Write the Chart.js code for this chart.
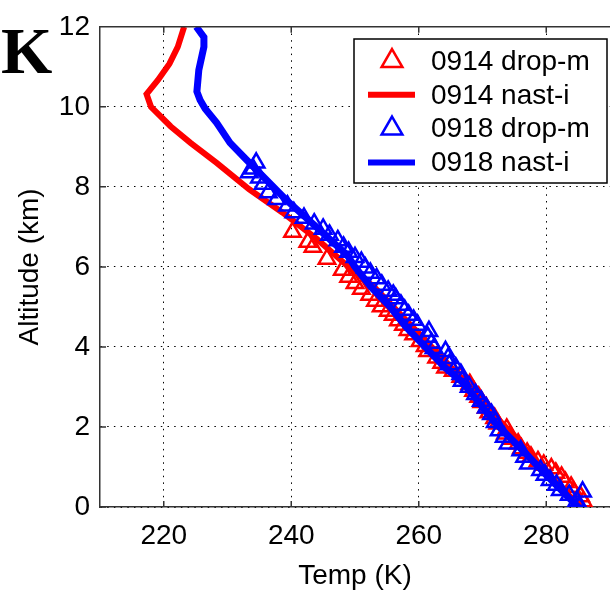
<!DOCTYPE html>
<html>
<head>
<meta charset="utf-8">
<script src="https://cdn.jsdelivr.net/npm/chart.js@4.4.0/dist/chart.umd.min.js"></script>
<style>
  html, body { margin: 0; padding: 0; background: #fff; overflow: hidden; }
  #wrap { position: relative; width: 610px; height: 593px; overflow: hidden; }
  #profileChart { position: absolute; left: 0; top: 0; }
  #panelLabel {
    position: absolute; left: 1px; top: 18px;
    font: bold 66px "Liberation Serif", "DejaVu Serif", serif;
    line-height: 66px; color: #000;
  }
</style>
</head>
<body>
<div id="wrap">
  <canvas id="profileChart" width="622" height="593" style="width:622px;height:593px"></canvas>
  <div id="panelLabel">K</div>
</div>
<script>
// ---- data (temperature in K, altitude in km) ----
const seriesLabels = ['0914 drop-m', '0914 nast-i', '0918 drop-m', '0918 nast-i'];
const xTicks = [220, 240, 260, 280];
const yTicks = [0, 2, 4, 6, 8, 10, 12];

// 0914 dropsonde (red triangles)
const drop0914Alt = [6.87, 6.62, 6.50, 6.20, 5.92, 5.75, 5.59, 5.45, 5.30, 5.15,
  5.01, 4.90, 4.80, 4.66, 4.55, 4.42, 4.31, 4.14, 4.02, 3.89,
  3.73, 3.60, 3.48, 3.40, 3.25, 3.07, 2.90, 2.75, 2.62, 2.48,
  2.36, 2.22, 2.08, 1.95, 1.83, 1.70, 1.58, 1.46, 1.35, 1.25,
  1.14, 1.05, 0.96, 0.85, 0.75, 0.62, 0.50, 0.38, 0.26, 0.14];
const drop0914Temp = [240.2, 242.6, 243.4, 245.6, 248.0, 249.0, 250.0, 251.0, 252.3, 253.2,
  254.1, 255.2, 256.0, 256.8, 257.6, 258.3, 259.2, 260.2, 261.0, 261.4,
  262.8, 263.6, 264.2, 265.4, 266.6, 268.0, 268.6, 269.4, 269.9, 270.6,
  271.0, 271.9, 272.4, 273.8, 273.6, 274.6, 275.6, 276.1, 277.0, 277.6,
  278.7, 279.6, 280.8, 281.5, 282.4, 283.0, 283.9, 284.3, 285.4, 285.8];

// 0914 NAST-I retrieval (red line)
const nast0914Alt = [0, 0.3, 0.7, 1.2, 1.7, 2.1, 2.6, 3.1, 3.5, 4.0, 4.5, 5.0, 5.5, 6.0,
  6.7, 7.36, 7.94, 8.6, 9.1, 9.51, 10.0, 10.32, 10.67, 11.08, 11.5, 12.0];
const nast0914Temp = [285.5, 283.5, 281.0, 278.0, 275.5, 273.0, 270.0, 267.5, 265.0, 262.0, 259.0, 256.0, 253.0, 249.0,
  244.0, 238.6, 233.4, 228.3, 224.2, 221.1, 218.0, 217.3, 219.1, 220.9, 222.2, 223.2];

// 0918 dropsonde (blue triangles)
const drop0918Alt = [8.60, 8.45, 8.36, 8.23, 8.07, 7.86, 7.69, 7.53, 7.36, 7.22,
  7.08, 6.95, 6.80, 6.66, 6.50, 6.37, 6.24, 6.12, 5.98, 5.85,
  5.71, 5.55, 5.40, 5.30, 5.21, 5.05, 4.92, 4.80, 4.67, 4.55,
  4.39, 4.25, 4.10, 3.97, 3.89, 3.72, 3.56, 3.48, 3.32, 3.15,
  3.00, 2.82, 2.65, 2.48, 2.32, 2.12, 1.91, 1.75, 1.58, 1.41,
  1.25, 1.08, 0.92, 0.80, 0.67, 0.55, 0.42, 0.30, 0.38, 0.15, 0.00];
const drop0918Temp = [234.5, 234.0, 233.4, 235.0, 235.6, 236.4, 237.7, 239.4, 240.4, 242.0,
  243.6, 245.0, 246.0, 247.3, 248.2, 249.0, 250.0, 251.0, 251.6, 252.4,
  253.4, 254.2, 255.2, 256.0, 256.4, 257.2, 257.8, 258.4, 259.2, 259.8,
  261.6, 261.4, 262.0, 262.4, 264.2, 264.6, 264.8, 265.8, 266.6, 266.8,
  267.9, 268.9, 269.8, 270.6, 271.4, 272.0, 272.6, 273.4, 274.0, 276.0,
  276.6, 277.2, 279.1, 279.8, 280.6, 281.6, 282.2, 283.6, 285.7, 284.8, 285.2];

// 0918 NAST-I retrieval (blue line)
const nast0918Alt = [0, 0.4, 0.8, 1.3, 1.7, 2.1, 2.6, 3.1, 3.5, 4.0, 4.5, 5.0, 5.5, 6.0,
  6.29, 7.03, 7.69, 8.27, 8.69, 9.1, 9.6, 9.95, 10.17, 10.38, 10.92, 11.5, 11.74, 12.0];
const nast0918Temp = [285.0, 282.5, 280.0, 277.0, 274.5, 272.0, 269.5, 267.0, 264.0, 261.0, 258.0, 255.5, 252.5, 250.0,
  248.8, 243.7, 239.1, 235.5, 232.9, 230.4, 228.3, 226.5, 225.7, 225.2, 225.5, 226.3, 226.3, 225.1];

const RED = '#ff0000';
const BLUE = '#0000ff';
const FONT = 'Liberation Sans, Arial, Helvetica, sans-serif';

function toPoints(temps, alts) {
  return temps.map((t, i) => ({ x: t, y: alts[i] }));
}

// box border on top + inward tick marks, matlab style
const framePlugin = {
  id: 'frame',
  afterDraw(chart) {
    const { ctx, chartArea, scales } = chart;
    ctx.save();
    ctx.strokeStyle = '#333';
    ctx.lineWidth = 1.5;
    ctx.setLineDash([]);
    ctx.beginPath();
    ctx.moveTo(chartArea.left, chartArea.top);
    ctx.lineTo(chartArea.right, chartArea.top);
    xTicks.forEach(v => {
      const px = scales.x.getPixelForValue(v);
      ctx.moveTo(px, chartArea.bottom);
      ctx.lineTo(px, chartArea.bottom - 6);
      ctx.moveTo(px, chartArea.top);
      ctx.lineTo(px, chartArea.top + 6);
    });
    yTicks.forEach(v => {
      const py = scales.y.getPixelForValue(v);
      ctx.moveTo(chartArea.left, py);
      ctx.lineTo(chartArea.left + 6, py);
    });
    ctx.stroke();
    ctx.restore();
  }
};

// legend box inside the top right corner
const boxLegendPlugin = {
  id: 'boxLegend',
  afterDraw(chart) {
    const ctx = chart.ctx;
    const box = { left: 354, top: 39, width: 253, height: 144 };
    ctx.save();
    ctx.fillStyle = '#fff';
    ctx.fillRect(box.left, box.top, box.width, box.height);
    ctx.strokeStyle = '#000';
    ctx.lineWidth = 1.5;
    ctx.strokeRect(box.left, box.top, box.width, box.height);

    chart.data.datasets.forEach((ds, i) => {
      const y = 61 + i * 33.8;
      if (ds.showLine) {
        ctx.strokeStyle = ds.borderColor;
        ctx.lineWidth = 6;
        ctx.beginPath();
        ctx.moveTo(368, y);
        ctx.lineTo(415, y);
        ctx.stroke();
      } else {
        ctx.strokeStyle = ds.borderColor;
        ctx.fillStyle = 'rgba(0,0,0,0)';
        ctx.lineWidth = 2.5;
        Chart.helpers.drawPoint(ctx, { pointStyle: 'triangle', radius: 12, rotation: 0, borderWidth: 2.5 }, 392, y);
      }
      ctx.fillStyle = '#000';
      ctx.font = '28px ' + FONT;
      ctx.textAlign = 'left';
      ctx.textBaseline = 'middle';
      ctx.fillText(ds.label, 431, y + 1);
    });
    ctx.restore();
  }
};

const tickFont = { family: FONT, size: 28 };

new Chart(document.getElementById('profileChart'), {
  type: 'scatter',
  data: {
    datasets: [
      {
        label: seriesLabels[0],
        data: toPoints(drop0914Temp, drop0914Alt),
        showLine: false,
        pointStyle: 'triangle',
        pointRadius: 9.5,
        borderColor: RED,
        backgroundColor: 'rgba(0,0,0,0)',
        borderWidth: 2.5,
        order: 3
      },
      {
        label: seriesLabels[1],
        data: toPoints(nast0914Temp, nast0914Alt),
        showLine: true,
        pointRadius: 0,
        borderColor: RED,
        backgroundColor: RED,
        borderWidth: 6,
        tension: 0,
        order: 2
      },
      {
        label: seriesLabels[2],
        data: toPoints(drop0918Temp, drop0918Alt),
        showLine: false,
        pointStyle: 'triangle',
        pointRadius: 9.5,
        borderColor: BLUE,
        backgroundColor: 'rgba(0,0,0,0)',
        borderWidth: 2.5,
        order: 1
      },
      {
        label: seriesLabels[3],
        data: toPoints(nast0918Temp, nast0918Alt),
        showLine: true,
        pointRadius: 0,
        borderColor: BLUE,
        backgroundColor: BLUE,
        borderWidth: 7,
        tension: 0,
        order: 0
      }
    ]
  },
  options: {
    responsive: false,
    animation: false,
    devicePixelRatio: 1,
    layout: { padding: { top: 23, left: 0, right: 0, bottom: 0 } },
    plugins: {
      legend: { display: false },
      tooltip: { enabled: false }
    },
    scales: {
      x: {
        type: 'linear',
        min: 210,
        max: 290,
        afterBuildTicks: s => { s.ticks = xTicks.map(v => ({ value: v })); },
        afterFit: s => { s.height = 86; },
        ticks: { font: tickFont, color: '#000', padding: 12, maxRotation: 0 },
        grid: { color: '#000', lineWidth: 1, drawTicks: false },
        border: { color: '#333', width: 1.5, dash: [1.5, 5.2] },
        title: {
          display: true,
          text: 'Temp (K)',
          font: tickFont,
          color: '#000',
          padding: { top: 0, bottom: 0 }
        }
      },
      y: {
        type: 'linear',
        min: 0,
        max: 12,
        afterBuildTicks: s => { s.ticks = yTicks.map(v => ({ value: v })); },
        afterFit: s => { s.width = 100; },
        ticks: { font: tickFont, color: '#000', padding: 10 },
        grid: { color: '#000', lineWidth: 1, drawTicks: false },
        border: { color: '#333', width: 1.5, dash: [1.5, 5.2] },
        title: {
          display: true,
          text: 'Altitude (km)',
          font: tickFont,
          color: '#000',
          padding: { top: 13, bottom: 0 }
        }
      }
    }
  },
  plugins: [framePlugin, boxLegendPlugin]
});
</script>
</body>
</html>
